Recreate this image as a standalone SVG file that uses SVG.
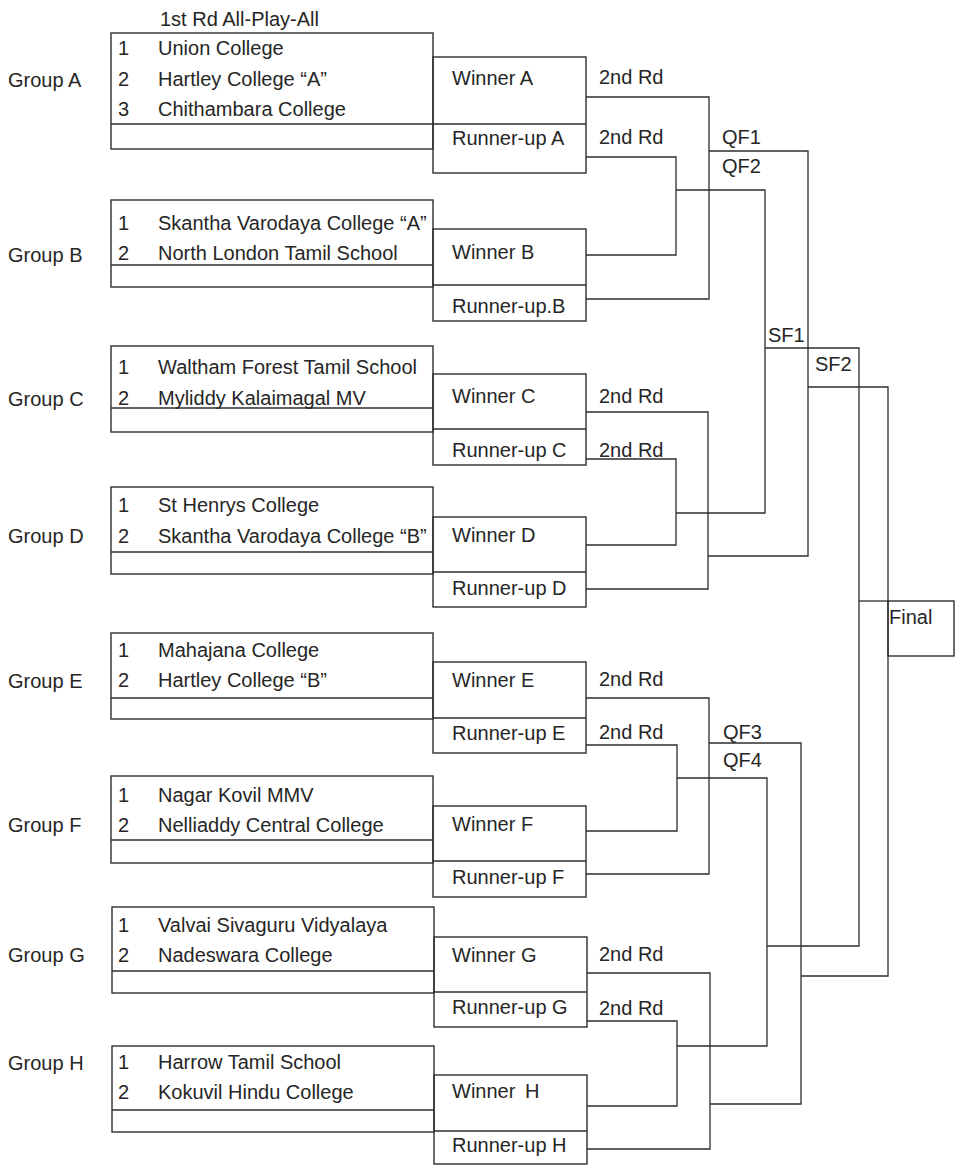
<svg xmlns="http://www.w3.org/2000/svg" width="959" height="1166" viewBox="0 0 959 1166">
<style>
  .bg { fill: #ffffff; }
  .box { fill: none; stroke: #2e2e2e; stroke-width: 1.4; }
  .ln { fill: none; stroke: #2e2e2e; stroke-width: 1.3; }
  text { font-family: "Liberation Sans", Arial, sans-serif; font-size: 20px; fill: #262626; }
</style>
<rect class="bg" x="0" y="0" width="959" height="1166"/>

<g id="title"><text x="160" y="26">1st Rd All-Play-All</text></g>

<!-- Group nodes -->
<g id="group-a">
  <text x="8" y="87">Group A</text>
  <rect class="box" x="111" y="33" width="322" height="116"/>
  <line class="box" x1="111" y1="124" x2="433" y2="124"/>
  <text x="118" y="55">1</text><text x="158" y="55">Union College</text>
  <text x="118" y="86">2</text><text x="158" y="86">Hartley College “A”</text>
  <text x="118" y="116">3</text><text x="158" y="116">Chithambara College</text>
</g>
<g id="group-b">
  <text x="8" y="262">Group B</text>
  <rect class="box" x="111" y="200" width="322" height="87"/>
  <line class="box" x1="111" y1="265" x2="433" y2="265"/>
  <text x="118" y="230">1</text><text x="158" y="230">Skantha Varodaya College “A”</text>
  <text x="118" y="260">2</text><text x="158" y="260">North London Tamil School</text>
</g>
<g id="group-c">
  <text x="8" y="406">Group C</text>
  <rect class="box" x="111" y="346" width="322" height="86"/>
  <line class="box" x1="111" y1="408" x2="433" y2="408"/>
  <text x="118" y="374">1</text><text x="158" y="374">Waltham Forest Tamil School</text>
  <text x="118" y="405">2</text><text x="158" y="405">Myliddy Kalaimagal MV</text>
</g>
<g id="group-d">
  <text x="8" y="543">Group D</text>
  <rect class="box" x="111" y="487" width="322" height="87"/>
  <line class="box" x1="111" y1="552" x2="433" y2="552"/>
  <text x="118" y="512">1</text><text x="158" y="512">St Henrys College</text>
  <text x="118" y="543">2</text><text x="158" y="543">Skantha Varodaya College “B”</text>
</g>
<g id="group-e">
  <text x="8" y="688">Group E</text>
  <rect class="box" x="111" y="633" width="322" height="86"/>
  <line class="box" x1="111" y1="698" x2="433" y2="698"/>
  <text x="118" y="657">1</text><text x="158" y="657">Mahajana College</text>
  <text x="118" y="687">2</text><text x="158" y="687">Hartley College “B”</text>
</g>
<g id="group-f">
  <text x="8" y="832">Group F</text>
  <rect class="box" x="111" y="776" width="322" height="87"/>
  <line class="box" x1="111" y1="840" x2="433" y2="840"/>
  <text x="118" y="802">1</text><text x="158" y="802">Nagar Kovil MMV</text>
  <text x="118" y="832">2</text><text x="158" y="832">Nelliaddy Central College</text>
</g>
<g id="group-g">
  <text x="8" y="962">Group G</text>
  <rect class="box" x="112" y="907" width="322" height="86"/>
  <line class="box" x1="112" y1="971" x2="434" y2="971"/>
  <text x="118" y="932">1</text><text x="158" y="932">Valvai Sivaguru Vidyalaya</text>
  <text x="118" y="962">2</text><text x="158" y="962">Nadeswara College</text>
</g>
<g id="group-h">
  <text x="8" y="1070">Group H</text>
  <rect class="box" x="112" y="1046" width="322" height="86"/>
  <line class="box" x1="112" y1="1110" x2="434" y2="1110"/>
  <text x="118" y="1069">1</text><text x="158" y="1069">Harrow Tamil School</text>
  <text x="118" y="1099">2</text><text x="158" y="1099">Kokuvil Hindu College</text>
</g>

<!-- Result nodes -->
<g id="result-a">
  <rect class="box" x="433" y="57" width="153" height="116"/>
  <line class="box" x1="433" y1="124" x2="586" y2="124"/>
  <text x="452" y="85">Winner A</text>
  <text x="452" y="145">Runner-up A</text>
</g>
<g id="result-b">
  <rect class="box" x="433" y="229" width="153" height="92"/>
  <line class="box" x1="433" y1="285" x2="586" y2="285"/>
  <text x="452" y="259">Winner B</text>
  <text x="452" y="313">Runner-up.B</text>
</g>
<g id="result-c">
  <rect class="box" x="433" y="374" width="153" height="91"/>
  <line class="box" x1="433" y1="429" x2="586" y2="429"/>
  <text x="452" y="403">Winner C</text>
  <text x="452" y="457">Runner-up C</text>
</g>
<g id="result-d">
  <rect class="box" x="433" y="517" width="153" height="90"/>
  <line class="box" x1="433" y1="572" x2="586" y2="572"/>
  <text x="452" y="542">Winner D</text>
  <text x="452" y="595">Runner-up D</text>
</g>
<g id="result-e">
  <rect class="box" x="433" y="662" width="153" height="91"/>
  <line class="box" x1="433" y1="718" x2="586" y2="718"/>
  <text x="452" y="687">Winner E</text>
  <text x="452" y="740">Runner-up E</text>
</g>
<g id="result-f">
  <rect class="box" x="433" y="806" width="153" height="91"/>
  <line class="box" x1="433" y1="861" x2="586" y2="861"/>
  <text x="452" y="831">Winner F</text>
  <text x="452" y="884">Runner-up F</text>
</g>
<g id="result-g">
  <rect class="box" x="434" y="937" width="153" height="90"/>
  <line class="box" x1="434" y1="992" x2="587" y2="992"/>
  <text x="452" y="962">Winner G</text>
  <text x="452" y="1014">Runner-up G</text>
</g>
<g id="result-h">
  <rect class="box" x="434" y="1075" width="153" height="89"/>
  <line class="box" x1="434" y1="1131" x2="587" y2="1131"/>
  <text x="452" y="1098">Winner <tspan x="525">H</tspan></text>
  <text x="452" y="1152">Runner-up H</text>
</g>

<!-- Round labels -->
<g id="labels-2nd-rd">
  <text x="599" y="84">2nd Rd</text>
  <text x="599" y="144">2nd Rd</text>
  <text x="599" y="403">2nd Rd</text>
  <text x="599" y="457">2nd Rd</text>
  <text x="599" y="686">2nd Rd</text>
  <text x="599" y="739">2nd Rd</text>
  <text x="599" y="961">2nd Rd</text>
  <text x="599" y="1015">2nd Rd</text>
</g>
<g id="labels-qf">
  <text x="722" y="144">QF1</text>
  <text x="722" y="173">QF2</text>
  <text x="723" y="739">QF3</text>
  <text x="723" y="767">QF4</text>
</g>
<g id="labels-sf">
  <text x="768" y="342">SF1</text>
  <text x="815" y="371">SF2</text>
</g>
<g id="final">
  <rect class="box" x="888" y="601" width="66" height="55"/>
  <text x="889" y="624">Final</text>
</g>

<!-- Connectors -->
<g id="connectors">
  <!-- A/B bracket -->
  <polyline class="ln" points="586,97 709,97 709,299 586,299"/>
  <polyline class="ln" points="586,157 676,157 676,255 586,255"/>
  <polyline class="ln" points="709,151 808,151 808,556 708,556"/>
  <polyline class="ln" points="676,190 765,190 765,513 676,513"/>
  <!-- C/D bracket -->
  <polyline class="ln" points="586,412 708,412 708,589 586,589"/>
  <polyline class="ln" points="586,459 676,459 676,545 586,545"/>
  <!-- semi-final lines -->
  <polyline class="ln" points="765,348 859,348 859,946 767,946"/>
  <polyline class="ln" points="808,387 888,387 888,976 801,976"/>
  <line class="ln" x1="859" y1="601" x2="888" y2="601"/>
  <!-- E/F bracket -->
  <polyline class="ln" points="586,698 709,698 709,874 586,874"/>
  <polyline class="ln" points="586,745 677,745 677,831 586,831"/>
  <polyline class="ln" points="709,743 801,743 801,1104 710,1104"/>
  <polyline class="ln" points="677,778 767,778 767,1046 677,1046"/>
  <!-- G/H bracket -->
  <polyline class="ln" points="587,973 710,973 710,1149 587,1149"/>
  <polyline class="ln" points="587,1021 677,1021 677,1106 587,1106"/>
</g>
</svg>
